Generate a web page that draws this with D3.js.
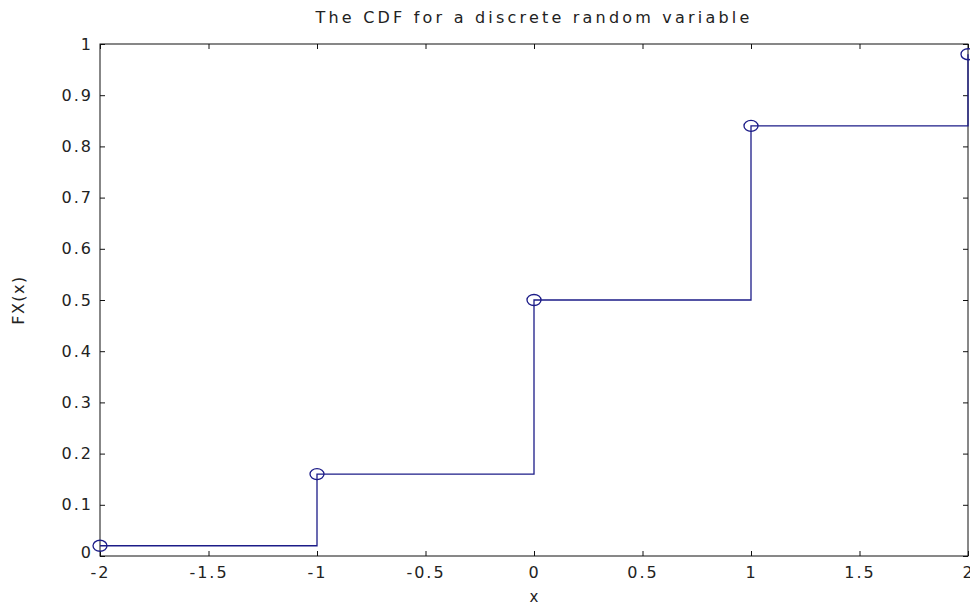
<!DOCTYPE html>
<html>
<head>
<meta charset="utf-8">
<script src="https://cdn.jsdelivr.net/npm/d3@7"></script>
<style>
	body { margin: 0; background: #fff; }
	text { font-family: 'DejaVu Sans', 'Liberation Sans', sans-serif; fill: #222; }
</style>
</head>
<body>
<svg id="chart"></svg>
<script>
// values of the discrete random variable and its CDF
const xValues = [-2, -1, 0, 1, 2];
const cdfValues = [0.02, 0.16, 0.5, 0.84, 0.98];
const xTicks = [-2, -1.5, -1, -0.5, 0, 0.5, 1, 1.5, 2];
const yTicks = [0, 0.1, 0.2, 0.3, 0.4, 0.5, 0.6, 0.7, 0.8, 0.9, 1];

const config = {
	width: 970,
	height: 605,
	margin: { top: 44, right: 2, bottom: 49, left: 100 },
};

const innerW = config.width - config.margin.left - config.margin.right;
const innerH = config.height - config.margin.top - config.margin.bottom;
const lineColor = '#1c1c88';

const svg = d3.select('#chart')
	.attr('width', config.width)
	.attr('height', config.height);

const chart = svg.append('g')
	.attr('transform', `translate(${config.margin.left},${config.margin.top})`);

const x = d3.scaleLinear().domain([-2, 2]).range([0, innerW]);
const y = d3.scaleLinear().domain([0, 1]).range([innerH, 0]);

// inward ticks on all four sides, like a boxed matlab axis
const tickLen = 5;
const fmt = d => String(d);

chart.append('g')
	.attr('transform', `translate(0,${innerH})`)
	.call(d3.axisBottom(x).tickValues(xTicks).tickSizeInner(-tickLen).tickSizeOuter(0).tickPadding(11).tickFormat(fmt));
chart.append('g')
	.call(d3.axisTop(x).tickValues(xTicks).tickSizeInner(-tickLen).tickSizeOuter(0).tickFormat(''));
const yAxisG = chart.append('g')
	.call(d3.axisLeft(y).tickValues(yTicks).tickSizeInner(-tickLen).tickSizeOuter(0).tickPadding(7).tickFormat(fmt));
chart.append('g')
	.attr('transform', `translate(${innerW},0)`)
	.call(d3.axisRight(y).tickValues(yTicks).tickSizeInner(-tickLen).tickSizeOuter(0).tickFormat(''));

chart.selectAll('.domain').remove();
chart.selectAll('.tick line').attr('stroke', '#111');
chart.selectAll('.tick text')
	.style('font-size', '16px')
	.style('letter-spacing', '2px')
	.attr('fill', '#222');

// the "0" on y sits a little above its tick, clear of "-2"
yAxisG.selectAll('.tick text').filter(d => d === 0).attr('dy', '0.1em');

chart.append('rect')
	.attr('width', innerW)
	.attr('height', innerH)
	.attr('fill', 'none')
	.attr('stroke', '#111')
	.attr('stroke-width', 1);

const pts = xValues.map((d, i) => [d, cdfValues[i]]);

chart.append('path')
	.datum(pts)
	.attr('fill', 'none')
	.attr('stroke', lineColor)
	.attr('stroke-width', 1.3)
	.attr('d', d3.line().x(d => x(d[0])).y(d => y(d[1])).curve(d3.curveStepAfter));

chart.selectAll('.marker')
	.data(pts)
	.join('ellipse')
	.attr('class', 'marker')
	.attr('cx', d => x(d[0]))
	.attr('cy', d => y(d[1]))
	.attr('rx', 7)
	.attr('ry', 5.5)
	.attr('fill', 'none')
	.attr('stroke', lineColor)
	.attr('stroke-width', 1.3);

svg.append('text')
	.attr('x', config.margin.left + innerW / 2)
	.attr('y', 23)
	.attr('text-anchor', 'middle')
	.style('font-size', '16px')
	.style('letter-spacing', '3.2px')
	.text('The CDF for a discrete random variable');

svg.append('text')
	.attr('x', config.margin.left + innerW / 2)
	.attr('y', 602)
	.attr('text-anchor', 'middle')
	.style('font-size', '15px')
	.text('x');

svg.append('text')
	.attr('transform', `translate(24,${config.margin.top + innerH / 2}) rotate(-90)`)
	.attr('text-anchor', 'middle')
	.style('font-size', '16px')
	.style('letter-spacing', '1.5px')
	.text('FX(x)');
</script>
</body>
</html>
